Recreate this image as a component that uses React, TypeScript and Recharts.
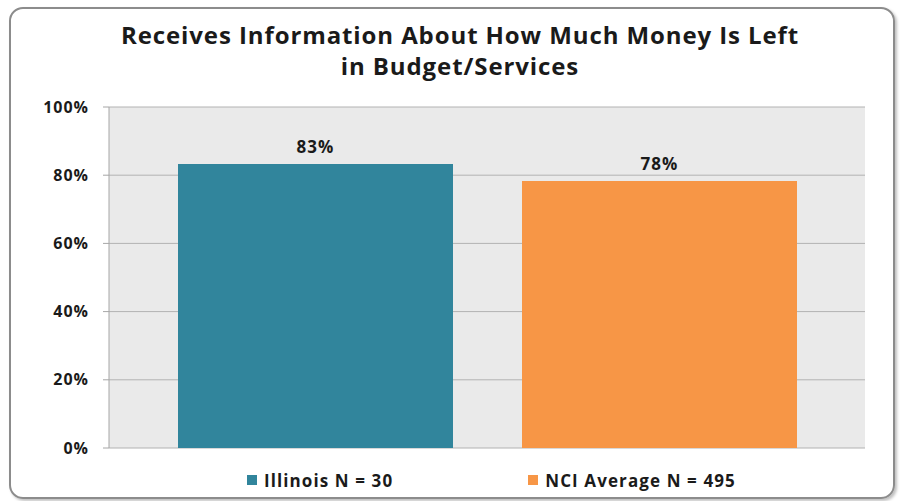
import React from 'react'
import {
  BarChart, Bar, XAxis, YAxis, CartesianGrid, Legend, LabelList,
} from 'recharts'

const categories = ['Receives information']
const illinoisValues = [83.3]
const nciValues = [78.3]
const seriesNames = ['Illinois N = 30', 'NCI Average N = 495']
const yTicks = [0, 20, 40, 60, 80, 100]
const titleLines = ['Receives Information About How Much Money Is Left', 'in Budget/Services']

const COLORS = {
  illinois: '#31859C',
  nci: '#F79646',
  plotBg: '#EAEAEA',
  grid: '#B2B2B2',
  axis: '#A6A6A6',
  text: '#1A1A1A',
}

const FONT = '"Open Sans", Lato, sans-serif'

const chartData = categories.map((c, i) => ({
  name: c,
  illinois: illinoisValues[i],
  nci: nciValues[i],
}))

function LegendContent() {
  const items = [
    { label: seriesNames[0], color: COLORS.illinois },
    { label: seriesNames[1], color: COLORS.nci },
  ]
  return (
    <div style={{ display: 'flex', justifyContent: 'flex-start', height: 30, alignItems: 'center', paddingLeft: 247 }}>
      {items.map((it, i) => (
        <div key={it.label} style={{ display: 'flex', alignItems: 'center', marginRight: i === 0 ? 135 : 0 }}>
          <span style={{ width: 10, height: 10, background: it.color, display: 'inline-block', marginRight: 7 }} />
          <span style={{ fontFamily: FONT, fontWeight: 700, fontSize: 17, letterSpacing: 1.1, color: COLORS.text }}>{it.label}</span>
        </div>
      ))}
    </div>
  )
}

export default function App() {
  return (
    <div style={{ position: 'absolute', left: 0, top: 0, width: 901, height: 501, background: '#fff', overflow: 'hidden' }}>
      <div
        style={{
          position: 'absolute', left: 9, top: 7, width: 882, height: 488,
          border: '2px solid #8C8C8C', borderRadius: 14,
          boxShadow: '2px 2px 3px rgba(0,0,0,0.25)',
        }}
      />
      <div
        style={{
          position: 'absolute', left: 0, top: 19, width: 920, textAlign: 'center',
          fontFamily: FONT, fontWeight: 700, fontSize: 24, letterSpacing: 0.9, lineHeight: '31px', color: COLORS.text,
        }}
      >
        {titleLines.map(l => <div key={l}>{l}</div>)}
      </div>
      <div style={{ position: 'absolute', left: 0, top: 0 }}>
        <BarChart
          width={901}
          height={501}
          data={chartData}
          margin={{ top: 107, right: 36, bottom: 23, left: 0 }}
          barCategoryGap={69}
          barGap={69}
        >
          <CartesianGrid vertical={false} stroke={COLORS.grid} fill={COLORS.plotBg} />
          <XAxis
            dataKey="name"
            height={0}
            tick={false}
            tickLine={false}
            axisLine={{ stroke: COLORS.axis, strokeWidth: 2 }}
          />
          <YAxis
            width={109}
            domain={[0, 100]}
            ticks={yTicks}
            interval={0}
            tickFormatter={v => `${v}%`}
            tick={{ fontSize: 16, fontWeight: 700, fill: COLORS.text, fontFamily: FONT, letterSpacing: 1 }}
            tickLine={{ stroke: COLORS.axis }}
            tickSize={6}
            tickMargin={14}
            axisLine={{ stroke: COLORS.axis }}
          />
          <Legend
            verticalAlign="bottom"
            height={30}
            content={() => <LegendContent />}
            wrapperStyle={{ bottom: 6 }}
          />
          <Bar dataKey="illinois" name={seriesNames[0]} fill={COLORS.illinois} isAnimationActive={false}>
            <LabelList
              dataKey="illinois"
              position="top"
              offset={11}
              formatter={(v: number) => `${Math.round(v)}%`}
              style={{ fontSize: 17, fontWeight: 700, fill: COLORS.text, fontFamily: FONT, letterSpacing: 1 }}
            />
          </Bar>
          <Bar dataKey="nci" name={seriesNames[1]} fill={COLORS.nci} isAnimationActive={false}>
            <LabelList
              dataKey="nci"
              position="top"
              offset={11}
              formatter={(v: number) => `${Math.round(v)}%`}
              style={{ fontSize: 17, fontWeight: 700, fill: COLORS.text, fontFamily: FONT, letterSpacing: 1 }}
            />
          </Bar>
        </BarChart>
      </div>
    </div>
  )
}
